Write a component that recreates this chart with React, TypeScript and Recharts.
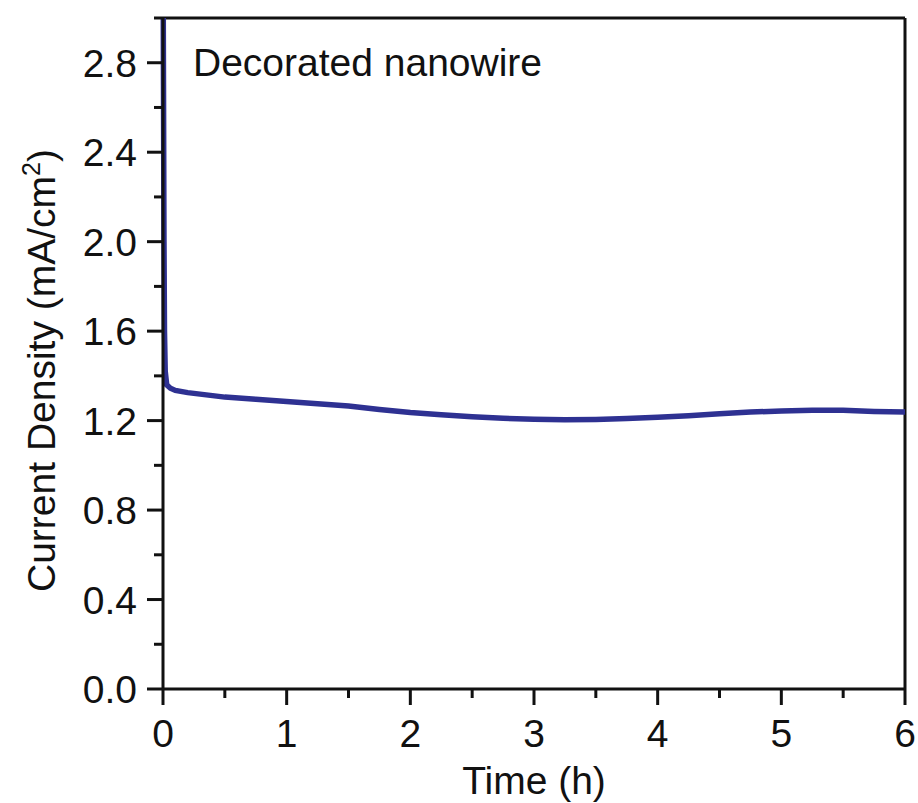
import React from 'react';
import { LineChart, Line, XAxis, YAxis, ReferenceLine } from 'recharts';

// chronoamperometry trace, time in hours vs current density in mA/cm2
const TIME_H = [
  0, 0.004, 0.008, 0.012, 0.018, 0.03, 0.06, 0.1, 0.2, 0.35, 0.5, 0.75, 1.0, 1.25, 1.5, 1.75,
  2.0, 2.25, 2.5, 2.75, 3.0, 3.25, 3.5, 3.75, 4.0, 4.25, 4.5, 4.75, 5.0, 5.25, 5.5, 5.75, 6.0,
];
const CURRENT = [
  3.4, 2.7, 2.0, 1.6, 1.42, 1.36, 1.345, 1.335, 1.325, 1.315, 1.305, 1.295, 1.285, 1.275, 1.265, 1.25,
  1.236, 1.226, 1.217, 1.21, 1.206, 1.204, 1.205, 1.209, 1.215, 1.222, 1.231, 1.238, 1.243, 1.246, 1.246, 1.241, 1.238,
];

const X_TICKS = [0, 0.5, 1, 1.5, 2, 2.5, 3, 3.5, 4, 4.5, 5, 5.5, 6];
const Y_TICKS = [0, 0.2, 0.4, 0.6, 0.8, 1.0, 1.2, 1.4, 1.6, 1.8, 2.0, 2.2, 2.4, 2.6, 2.8, 3.0];

const TITLE = 'Decorated nanowire';

const data = TIME_H.map((t, i) => ({ t, j: CURRENT[i] }));

const FONT = '"Liberation Sans", Arial, sans-serif';
const INK = '#111';
const LINE_COLOR = '#2e3192';

const XTick = ({ x, y, payload }: any) => {
  const v = payload.value;
  const major = Math.abs(v - Math.round(v)) < 1e-6;
  return (
    <g>
      <line x1={x} x2={x} y1={y} y2={y + (major ? 16 : 9)} stroke={INK} strokeWidth={3} />
      {major && (
        <text x={x} y={y + 58} textAnchor="middle" fontSize={39} fontFamily={FONT} fill={INK}>
          {v}
        </text>
      )}
    </g>
  );
};

const YTick = ({ x, y, payload }: any) => {
  const v = payload.value;
  const major = Math.round(v * 10) % 4 === 0;
  return (
    <g>
      <line x1={x} x2={x - (major ? 16 : 9)} y1={y} y2={y} stroke={INK} strokeWidth={3} />
      {major && (
        <text x={x - 26} y={y + 14} textAnchor="end" fontSize={39} fontFamily={FONT} fill={INK}>
          {v.toFixed(1)}
        </text>
      )}
    </g>
  );
};

const XTitle = ({ viewBox }: any) => (
  <text x={viewBox.x + viewBox.width / 2} y={viewBox.y + 105} textAnchor="middle" fontSize={39} fontFamily={FONT} fill={INK}>
    Time (h)
  </text>
);

const YTitle = ({ viewBox }: any) => {
  const cx = 55;
  const cy = viewBox.y + viewBox.height / 2 + 17;
  return (
    <text x={cx} y={cy} transform={`rotate(-90 ${cx} ${cy})`} textAnchor="middle" fontSize={39} fontFamily={FONT} fill={INK}>
      Current Density (mA/cm
      <tspan fontSize={25} dy={-15}>2</tspan>
      <tspan dy={15}>)</tspan>
    </text>
  );
};

export default function App() {
  return (
    <div style={{ position: 'absolute', left: 0, top: 0, background: '#fff' }}>
      <LineChart width={918} height={803} data={data} margin={{ top: 18, right: 13, left: 0, bottom: 0 }}>
        <XAxis
          dataKey="t"
          type="number"
          domain={[0, 6]}
          ticks={X_TICKS}
          interval={0}
          height={114}
          tickSize={0}
          tickMargin={0}
          tickLine={false}
          axisLine={{ stroke: INK, strokeWidth: 3 }}
          tick={<XTick />}
          label={<XTitle />}
        />
        <YAxis
          type="number"
          domain={[0, 3]}
          allowDataOverflow
          ticks={Y_TICKS}
          interval={0}
          width={163}
          tickSize={0}
          tickMargin={0}
          tickLine={false}
          axisLine={{ stroke: INK, strokeWidth: 3 }}
          tick={<YTick />}
          label={<YTitle />}
        />
        <ReferenceLine y={3} stroke={INK} strokeWidth={3} />
        <ReferenceLine x={6} stroke={INK} strokeWidth={3} />
        <Line
          type="linear"
          dataKey="j"
          stroke={LINE_COLOR}
          strokeWidth={5.5}
          dot={false}
          isAnimationActive={false}
        />
      </LineChart>
      <div
        style={{
          position: 'absolute',
          left: 193,
          top: 40,
          fontFamily: FONT,
          fontSize: 39,
          color: INK,
          lineHeight: '45px',
          whiteSpace: 'nowrap',
        }}
      >
        {TITLE}
      </div>
    </div>
  );
}
